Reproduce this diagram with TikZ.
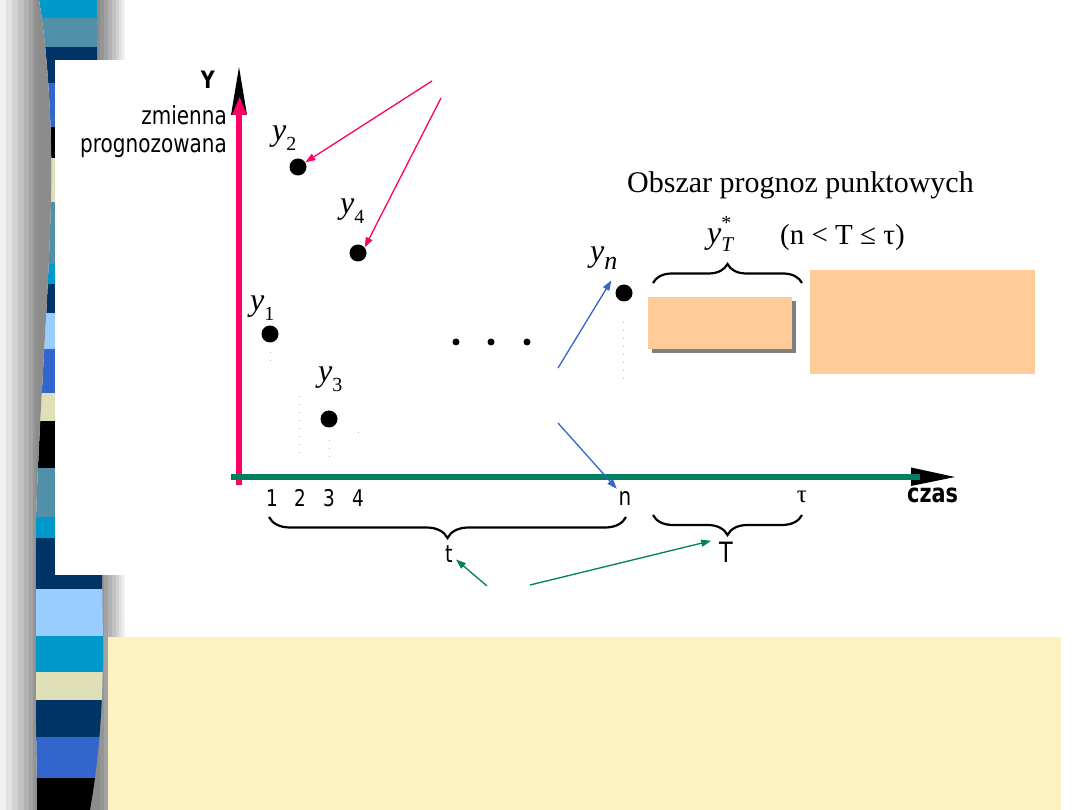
\documentclass[tikz,border=0pt]{standalone}
\usepackage{fontspec}
\setmainfont{Liberation Serif}
\newfontfamily\tah[FakeStretch=0.8]{DejaVu Sans}
\usetikzlibrary{arrows.meta,decorations.pathreplacing}
\definecolor{cyanS}{HTML}{0099CC}
\definecolor{steelS}{HTML}{5090A8}
\definecolor{navyS}{HTML}{003366}
\definecolor{royalS}{HTML}{3366CC}
\definecolor{beigeS}{HTML}{E0E0B8}
\definecolor{lblueS}{HTML}{99CCFF}
\definecolor{pinkC}{HTML}{FF0066}
\definecolor{greenC}{HTML}{008060}
\definecolor{blueC}{HTML}{3366CC}
\definecolor{orangeC}{HTML}{FFCC99}
\definecolor{yellowC}{HTML}{FEF2C0}
\definecolor{gA}{HTML}{F0F0F0}
\definecolor{gB}{HTML}{E2E2E2}
\definecolor{gC}{HTML}{D2D2D2}
\definecolor{gD}{HTML}{C2C2C2}
\definecolor{gE}{HTML}{B2B2B2}
\definecolor{gF}{HTML}{A2A2A2}
\definecolor{gG}{HTML}{959595}
\definecolor{gH}{HTML}{8C8C8C}
\newcommand{\setfs}[1]{\fontsize{#1}{#1}\selectfont}
\newcommand{\ylab}[1]{{\setfs{32}\itshape y}\raisebox{-10pt}{\setfs{20}#1}}
\begin{document}
\begin{tikzpicture}[x=1pt,y=-1pt,
  datapt/.style={circle,fill=black,inner sep=0pt,minimum size=17pt},
  smalldot/.style={circle,fill=black,inner sep=0pt,minimum size=7pt},
  lbl/.style={inner sep=0pt},
  sanslbl/.style={inner sep=0pt,font=\tah},
  pinkarr/.style={draw=pinkC,line width=1.3pt,-{Triangle[length=10pt,width=7pt]}},
  bluearr/.style={draw=blueC,line width=1.3pt,-{Triangle[length=10pt,width=7pt]}},
  greenarr/.style={draw=greenC,line width=1.3pt,-{Triangle[length=10pt,width=7pt]}},
  brc/.style={decorate,decoration={brace,amplitude=#1},line width=2.2pt},
  faint/.style={draw=gray!60,line width=0.7pt,dash pattern=on 1pt off 7pt},
  obox/.style={fill=orangeC,inner sep=0pt}
]
\useasboundingbox (0,0) rectangle (1080,810);
\fill[white] (0,0) rectangle (1080,810);
% right shadow of the band
\fill[gH] (88,0) rectangle (100,810);
\fill[gG] (100,0) rectangle (104,810);
\fill[gF] (104,0) rectangle (108,810);
\fill[gE] (108,0) rectangle (112,810);
\fill[gD] (112,0) rectangle (116,810);
\fill[gC] (116,0) rectangle (119,810);
\fill[gB] (119,0) rectangle (122,810);
\fill[gA] (122,0) rectangle (125,810);
% coloured band
\begin{scope}
\clip (39,0) .. controls (46,40) and (53,120) .. (51,200)
  .. controls (48,320) and (36,450) .. (35,570)
  .. controls (34,660) and (37,750) .. (37,810)
  -- (90,810) .. controls (97,770) and (103,720) .. (103,640)
  -- (102,575) -- (97,60) -- (97,0) -- cycle;
\foreach \a/\b/\c in {0/18/cyanS,18/47/steelS,47/83/navyS,83/127/royalS,127/158/black,
  158/202/beigeS,202/264/steelS,264/284/cyanS,284/313/navyS,313/349/lblueS,
  349/393/royalS,393/421/beigeS,421/468/black,468/517/steelS,517/538/cyanS,
  538/589/navyS,589/636/lblueS,636/672/cyanS,672/700/beigeS,700/737/navyS,
  737/778/royalS,778/810/black}
  \fill[\c] (30,\a) rectangle (110,\b);
\end{scope}
% white panel and yellow box
\fill[white] (55,60) rectangle (1080,575);
\fill[yellowC] (108,637) rectangle (1061,810);

% faint dotted guides
\draw[faint] (270,352) -- (270,362);
\draw[faint] (299,396) -- (299,460);
\draw[faint] (329,440) -- (329,458);
\draw[faint] (358,432) -- (358,436);
\draw[faint] (623,322) -- (623,382);

% Y axis
\coordinate (yax0) at (239,485);
\coordinate (yax1) at (239,112);
\fill[black] (239,67) -- (247,115) -- (231,115) -- cycle;
\draw[pinkC,line width=6pt] (yax0) -- (yax1);
\fill[pinkC] (239.5,97) -- (247,115) -- (232,115) -- cycle;
% X axis
\coordinate (xax0) at (231,477);
\coordinate (xax1) at (920,477);
\fill[black] (911,467.5) -- (955,477) -- (911,486) -- cycle;
\draw[greenC,line width=6pt] (xax0) -- (xax1);

% axis labels
\node[sanslbl,anchor=base east,font=\tah\bfseries\setfs{24}] (Ylab) at (215,89) {Y};
\node[sanslbl,anchor=base east,font=\tah\setfs{25}] (zm) at (227,125) {zmienna};
\node[sanslbl,anchor=base east,font=\tah\setfs{25}] (pr) at (227,153) {prognozowana};
\node[sanslbl,anchor=base west,font=\tah\bfseries\setfs{26}] (czas) at (907,503) {czas};

\node[sanslbl,anchor=base,font=\tah\setfs{23}] (n1) at (272,507) {1};
\node[sanslbl,anchor=base,font=\tah\setfs{23}] (n2) at (300,507) {2};
\node[sanslbl,anchor=base,font=\tah\setfs{23}] (n3) at (329,507) {3};
\node[sanslbl,anchor=base,font=\tah\setfs{23}] (n4) at (358,507) {4};
\node[sanslbl,anchor=base,font=\tah\setfs{25},inner sep=2pt] (nn) at (625,505) {n};
\node[lbl,anchor=base,font=\setfs{25}] (tau) at (802,503) {τ};

% data points
\node[datapt] (p2) at (298,167) {};
\node[datapt] (p4) at (358,253) {};
\node[datapt] (p1) at (270,334) {};
\node[datapt] (p3) at (329,419) {};
\node[datapt] (pn) at (624,293) {};
\node[smalldot] (d1) at (456,342) {};
\node[smalldot] (d2) at (491,342) {};
\node[smalldot] (d3) at (527,342) {};

% point labels
\node[lbl,anchor=base west] (ly2) at (272,141) {\ylab{2}};
\node[lbl,anchor=base west] (ly4) at (340,214) {\ylab{4}};
\node[lbl,anchor=base west] (ly1) at (250,311) {\ylab{1}};
\node[lbl,anchor=base west] (ly3) at (318,382) {\ylab{3}};
\node[lbl,anchor=base west] (lyn) at (590,262) {{\setfs{32}\itshape y}\raisebox{-8pt}{\setfs{26}\itshape n}};

% forecast region texts
\node[lbl,anchor=base west,font=\setfs{30}] (obsz) at (627,193) {Obszar prognoz punktowych};
\node[lbl,anchor=base west] (yT) at (707,244) {{\setfs{32}\itshape y}\rlap{\raisebox{14pt}{\setfs{20}*}}\raisebox{-8pt}{\setfs{21}\itshape T}};
\node[lbl,anchor=base west,font=\setfs{29}] (cond) at (780,245) {(n < T ≤ τ)};

% orange boxes
\fill[gray] (652,301) rectangle (796,353);
\node[obox,minimum width=144pt,minimum height=52pt] (box1) at (720,323) {};
\node[obox,minimum width=225pt,minimum height=104pt] (box2) at (922.5,322) {};

% braces
\coordinate (bu0) at (653,283);
\coordinate (bu1) at (802,283);
\draw[brc=19] (bu0) -- (bu1);
\coordinate (bt0) at (269,517);
\coordinate (bt1) at (626,517);
\draw[brc=21,decoration={mirror}] (bt0) -- (bt1);
\coordinate (bT0) at (653,515);
\coordinate (bT1) at (802,515);
\draw[brc=20,decoration={mirror}] (bT0) -- (bT1);

\node[sanslbl,anchor=base,font=\tah\setfs{24},inner sep=3pt] (tl) at (449,562) {t};
\node[sanslbl,anchor=base,font=\tah\setfs{28},inner sep=2pt] (Tl) at (726,562) {T};

% pink arrows
\coordinate (pa1) at (432,81);
\coordinate (pa2) at (441,98);
\draw[pinkarr] (pa1) -- (p2);
\draw[pinkarr] (pa2) -- (p4.40);
% blue arrows
\coordinate (ba1) at (558,368);
\coordinate (ba2) at (558,423);
\draw[bluearr,shorten >=12pt] (ba1) -- (lyn.south east);
\draw[bluearr] (ba2) -- (nn);
% green arrows
\coordinate (ga1) at (487,586);
\coordinate (ga2) at (530,585);
\draw[greenarr] (ga1) -- (tl);
\draw[greenarr,shorten >=6pt] (ga2) -- (Tl.north west);

% left grey gradient, drawn last, left of the band
\fill[gA] (0,0) rectangle (6,810);
\fill[gB] (6,0) rectangle (12,810);
\fill[gC] (12,0) rectangle (18,810);
\fill[gD] (18,0) rectangle (24,810);
\fill[gE] (24,0) rectangle (29,810);
\fill[gF] (29,0) rectangle (33,810);
\fill[gG] (33,0) rectangle (35.5,810);
\fill[gH] (35.5,0) -- (39,0) .. controls (46,40) and (53,120) .. (51,200)
  .. controls (48,320) and (36,450) .. (35,570)
  .. controls (34,660) and (37,750) .. (37,810) -- (35.5,810) -- cycle;
\end{tikzpicture}
\end{document}
